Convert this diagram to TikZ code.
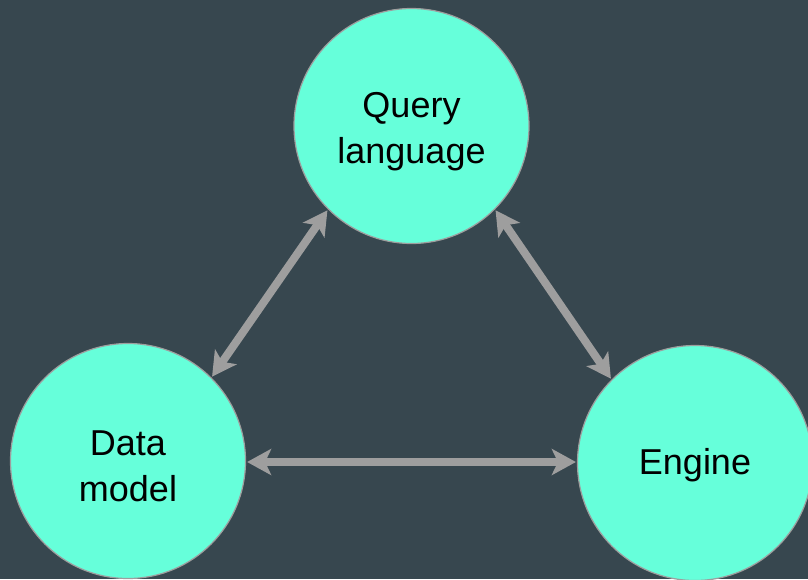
\documentclass[tikz,border=0pt]{standalone}
\usepackage{fontspec}
\setmainfont{Liberation Sans}
\usetikzlibrary{arrows.meta}
\definecolor{bgc}{HTML}{37474F}
\definecolor{tealc}{HTML}{66FFDA}
\definecolor{grayc}{HTML}{9E9E9E}
\begin{document}
\begin{tikzpicture}[x=1pt,y=-1pt,
  blob/.style={circle,fill=tealc,draw=grayc,line width=1.2pt,minimum size=235pt,inner sep=0pt},
  txt/.style={align=center,inner sep=0pt,font=\fontsize{36}{46}\selectfont},
  link/.style={draw=grayc,line width=8pt,{Stealth[length=24pt,width=26pt,inset=6pt]}-{Stealth[length=24pt,width=26pt,inset=6pt]},shorten <=1pt,shorten >=1pt}]
\fill[bgc] (0,0) rectangle (808,579);
\useasboundingbox (0,0) rectangle (808,579);
\node[blob] (q) at (411.5,126) {};
\node[blob] (d) at (128,461) {};
\node[blob] (e) at (695,463) {};
\node[txt] (qt) at ([yshift=-6pt]q.center) {Query\\language};
\node[txt] (dt) at ([yshift=-5pt]d.center) {Data\\model};
\node[txt] (et) at ([yshift=-2pt]e.center) {Engine};
\draw[link] (d.45) -- (q.225);
\draw[link] (q.-45) -- (e.135);
\draw[link] (d.east |- 0,462) coordinate (dl) -- (e.west |- 0,462) coordinate (er);
\end{tikzpicture}
\end{document}
